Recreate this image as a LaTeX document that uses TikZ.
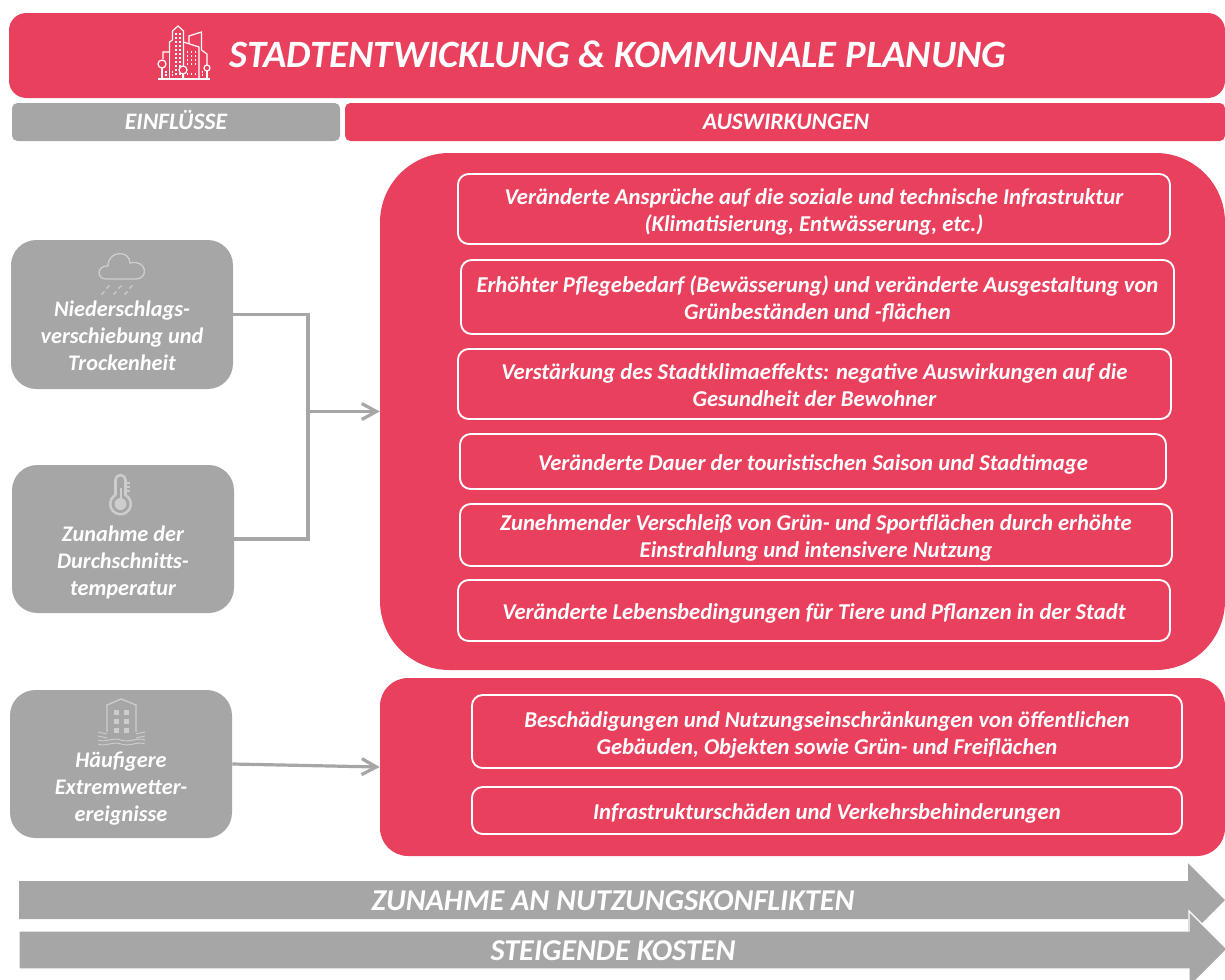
\documentclass[tikz,border=0pt]{standalone}
\usepackage{fontspec}
\setmainfont{Carlito}
\usepackage{tikz}
\usetikzlibrary{arrows.meta,positioning}
\definecolor{klimared}{RGB}{233,64,94}
\definecolor{klimagray}{RGB}{166,166,166}
\definecolor{icongray}{RGB}{205,205,205}
\newcommand{\boxlines}[1]{\raisebox{-3pt}[\height][\depth]{\begin{tabular}{@{}c@{}}#1\end{tabular}}}
\tikzset{
  redbox/.style={fill=klimared,text=white,inner sep=0pt},
  graybox/.style={fill=klimagray,text=white,inner sep=0pt,align=center,font=\fontsize{16.7}{20.2}\selectfont\bfseries\itshape},
  outcome/.style={draw=white,line width=1.4pt,rounded corners=8pt,text=white,align=center,inner sep=0pt,font=\fontsize{17}{20.2}\selectfont\bfseries\itshape},
  headlabel/.style={text=white,text height=11.5pt,text depth=0pt,font=\fontsize{17.7}{20}\selectfont\bfseries\itshape},
  bararrow/.style={fill=klimagray,draw=white,line width=0.8pt},
  barlabel/.style={text=white,font=\fontsize{22.7}{26}\selectfont\bfseries\itshape},
  linkline/.style={draw=klimagray,line width=2.4pt},
  cityicon/.style={draw=white,line width=0.9pt},
  softicon/.style={draw=icongray,line width=1pt}
}
\begin{document}
\begin{tikzpicture}[x=0.75pt,y=0.75pt,yscale=-1]
\useasboundingbox (0,0) rectangle (1225,979);

%Header bars
\node (title) [redbox,rounded corners=13pt,minimum width=912pt,minimum height=63.75pt] at (617,55.5) {};
\node (einfluesse) [fill=klimagray,rounded corners=4pt,minimum width=246pt,minimum height=28.5pt,inner sep=0pt,headlabel] at (176,122) {EINFLÜSSE};
\node (auswirkungen) [redbox,headlabel,rounded corners=4pt,minimum width=660pt,minimum height=28.5pt] at (785,122) {};
\node (titletext) [text=white,font=\fontsize{29}{34}\selectfont\bfseries\itshape] at (618,54) {STADTENTWICKLUNG \& KOMMUNALE PLANUNG};
\node (auswirkungentext) [headlabel] at (786,122) {AUSWIRKUNGEN};

%Red panels
\node (panelone) [redbox,rounded corners=52pt,minimum width=633.75pt,minimum height=387.75pt] at (802.5,411.5) {};
\node (paneltwo) [redbox,rounded corners=21pt,minimum width=633.75pt,minimum height=133.5pt] at (802.5,767) {};

%Gray boxes
\node (rain) [graybox,rounded corners=19pt,minimum width=166.5pt,minimum height=111.75pt] at (122,314.5) {};
\node (temp) [graybox,rounded corners=19pt,minimum width=166.5pt,minimum height=111pt] at (123,539) {};
\node (storm) [graybox,rounded corners=19pt,minimum width=166.5pt,minimum height=111pt] at (121,764) {};
\node (raintext) [graybox,fill=none] at (122,336) {Niederschlags-\\verschiebung und\\Trockenheit};
\node (temptext) [graybox,fill=none] at (123,562) {Zunahme der\\Durchschnitts-\\temperatur};
\node (stormtext) [graybox,fill=none] at (121,788.5) {Häufigere\\Extremwetter-\\ereignisse};

%Outcome boxes
\node (infra) [outcome,minimum width=534pt,minimum height=52.5pt] at (814,209) {\boxlines{Veränderte Ansprüche auf die soziale und technische Infrastruktur\\(Klimatisierung, Entwässerung, etc.)}};
\node (pflege) [outcome,minimum width=534.75pt,minimum height=55.5pt] at (817.5,297) {\boxlines{Erhöhter Pflegebedarf (Bewässerung) und veränderte Ausgestaltung von\\Grünbeständen  und -flächen}};
\node (stadtklima) [outcome,minimum width=534.75pt,minimum height=52.5pt] at (814.5,384) {\boxlines{Verstärkung des Stadtklimaeffekts: negative Auswirkungen auf die\\Gesundheit der Bewohner}};
\node (saison) [outcome,minimum width=529.5pt,minimum height=41.25pt] at (813,461.5) {\boxlines{Veränderte Dauer der touristischen Saison und Stadtimage}};
\node (verschleiss) [outcome,minimum width=534pt,minimum height=46.5pt] at (816,535) {\boxlines{Zunehmender Verschleiß von Grün- und Sportflächen durch erhöhte\\Einstrahlung und intensivere Nutzung}};
\node (leben) [outcome,minimum width=534pt,minimum height=45.75pt] at (814,610.5) {\boxlines{Veränderte Lebensbedingungen für Tiere und Pflanzen in der Stadt}};
\node (schaden) [outcome,minimum width=532.5pt,minimum height=54.75pt] at (827,731.5) {\boxlines{Beschädigungen und Nutzungseinschränkungen von öffentlichen\\Gebäuden, Objekten sowie Grün- und Freiflächen}};
\node (verkehr) [outcome,minimum width=532.5pt,minimum height=35.25pt] at (827,810.5) {\boxlines{Infrastrukturschäden und Verkehrsbehinderungen}};

%Connectors
\coordinate (junction) at (308,411.5);
\draw [linkline] (rain.east) -| (junction);
\draw [linkline] (temp.east) -| (junction);
\draw [linkline,-{Straight Barb[length=11pt,width=12pt]}] (junction) -- (panelone.west);
\draw [linkline,-{Straight Barb[length=11pt,width=12pt]}] (storm.east) -- (paneltwo.west);

%Bottom arrows
\fill [klimagray] (19,881) -- (1188,881) -- (1188,863) -- (1225,900) -- (1188,937) -- (1188,919) -- (19,919) -- cycle;
\draw [bararrow] (19,931) -- (1189,931) -- (1189,911) -- (1227,949) -- (1189,987) -- (1189,969) -- (19,969) -- cycle;
\node (conflicts) [barlabel] at (613,901) {ZUNAHME AN NUTZUNGSKONFLIKTEN};
\node (costs) [barlabel] at (613,951) {STEIGENDE KOSTEN};

%City icon
\draw [cityicon] (158,79) -- (210,79);
\draw [cityicon] (163,59) -- (163,52) -- (169.5,52) -- (169.5,42) -- (172.5,40) -- (172.5,31) -- (178,26) -- (183.5,31) -- (183.5,79);
\draw [cityicon] (169.5,52) -- (169.5,79);
\draw [cityicon] (183.5,42) -- (199,47) -- (199,79);
\draw [cityicon] (189,43.5) -- (189,36) -- (201.5,32) -- (201.5,50) -- (207,54) -- (207,65);
\foreach \iconx in {176,180} {
  \foreach \icony in {34,38,42,46,50,54,58,62,66,70,74} {
    \fill [white] (\iconx-0.9,\icony-1) rectangle (\iconx+0.9,\icony+1);
  }
}
\foreach \iconx in {187.5,191.5,195.5} {
  \foreach \icony in {52,56,60,64,74} {
    \fill [white] (\iconx-0.9,\icony-1) rectangle (\iconx+0.9,\icony+1);
  }
}
\foreach \iconx in {166,172.5,202.5} {
  \foreach \icony in {72,75} {
    \fill [white] (\iconx-0.9,\icony-1) rectangle (\iconx+0.9,\icony+1);
  }
}
\foreach \iconx/\icony/\iconr in {162/64/4,183/70/4,207/68/3} {
  \draw [cityicon,fill=klimared] (\iconx,\icony) circle (\iconr);
  \draw [cityicon] (\iconx,\icony+\iconr) -- (\iconx,79);
}

%Cloud icon
\draw [softicon] (106,279) .. controls (96,279) and (97,265) .. (108,266) .. controls (108,250) and (130,250) .. (130,263) .. controls (147,259) and (149,279) .. (136,279) -- cycle;
\foreach \iconx in {108,120,131} {
  \draw [softicon] (\iconx+1.5,285.5) -- (\iconx-1.5,288.5);
  \draw [softicon] (\iconx-3.5,291.5) -- (\iconx-6.5,294.5);
}

%Thermometer icon
\draw [softicon,line width=1.9pt] (115.5,495) -- (115.5,480) arc (180:360:5) -- (125.5,495) arc (-61:241:10.3);
\fill [icongray] (120.5,504) circle (6);
\draw [icongray,line width=1.5pt] (120.5,488) -- (120.5,503);
\draw [softicon,line width=1.3pt] (126,483) -- (130,483) (126,487) -- (130,487) (126,491) -- (130,491);

%Flood icon
\draw [softicon] (107,732) -- (107,705) -- (121,699) -- (136,705) -- (136,732);
\foreach \iconx in {116,126} {
  \foreach \icony in {712,721,730} {
    \fill [icongray] (\iconx-2.5,\icony-2.5) rectangle (\iconx+2.5,\icony+2.5);
  }
}
\foreach \icony in {732,736} {
  \draw [softicon,line width=0.7pt] (98,\icony) -- (107,\icony+2);
  \draw [softicon,line width=0.7pt] (136,\icony+2) -- (145,\icony);
}
\foreach \icony in {740,744} {
  \draw [softicon,line width=0.7pt] (98,\icony) .. controls (106,\icony+3) and (112,\icony-3) .. (121,\icony) .. controls (130,\icony+3) and (137,\icony-3) .. (145,\icony);
}

\end{tikzpicture}
\end{document}
